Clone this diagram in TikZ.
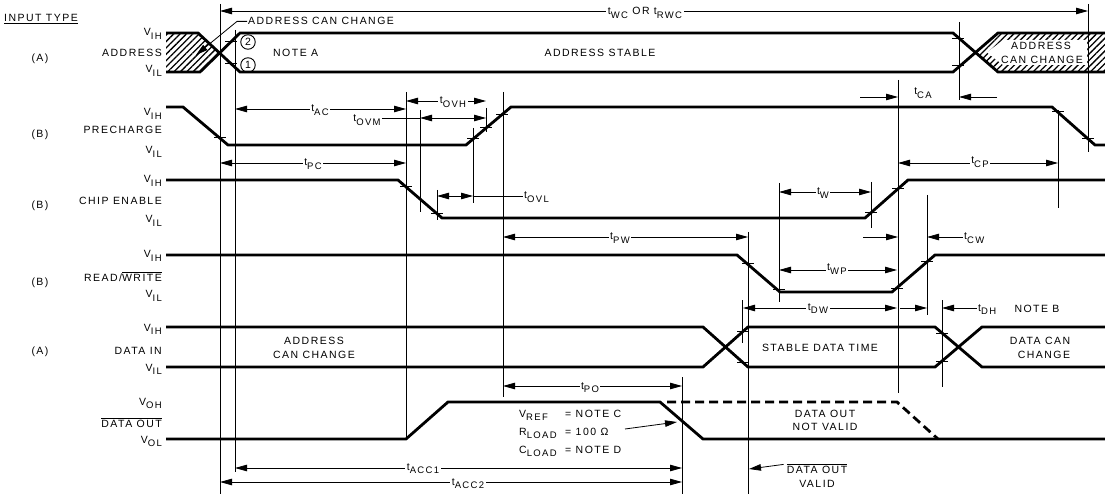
\documentclass[tikz,border=0pt]{standalone}
\usepackage{fontspec}
\setmainfont{Liberation Sans}[LetterSpace=14]
\usetikzlibrary{arrows.meta,patterns.meta}
\newcommand{\sbb}[1]{\raisebox{-3.2pt}{\fontsize{9.5}{10}\selectfont #1}}
\newcommand{\ovl}[1]{$\overline{\mbox{#1}}$}
\begin{document}
\begin{tikzpicture}[x=1pt,y=-1pt,
  sig/.style={line width=2.8pt, line join=miter},
  vline/.style={line width=0.9pt},
  dim/.style={line width=0.8pt,{Triangle[length=12pt,width=6.5pt]}-{Triangle[length=12pt,width=6.5pt]}},
  arr/.style={line width=0.8pt,-{Triangle[length=12pt,width=6.5pt]}},
  txt/.style={font=\fontsize{10.5}{12}\selectfont, inner sep=1pt},
  lab/.style={txt, fill=white, inner sep=1.5pt},
  hatch/.style={pattern={Lines[angle=45,distance=4.5pt,line width=1.3pt]}},
  tk/.pic={\draw[line width=1pt] (-6,0)--(6,0);}
]
\useasboundingbox (0,0) rectangle (1105,494);

% ---------- hatched regions ----------
\fill[hatch] (166,33) -- (198,33) -- (220,53) -- (200,72) -- (166,72) -- cycle;
\fill[hatch] (975.5,52.5) -- (998,33) -- (1105,33) -- (1105,72) -- (998,72) -- cycle;
\fill[white] (987,52.5) -- (1003,40) -- (1087,40) -- (1087,65) -- (1003,65) -- cycle;

% ---------- vertical reference lines ----------
\draw[vline] (220,4) -- (220,494);
\draw[vline] (235,30) -- (235,472);
\draw[vline] (406,92) -- (406,439);
\draw[vline] (420,110) -- (420,212);
\draw[vline] (473,128) -- (473,203);
\draw[vline] (486,108) -- (486,132);
\draw[vline] (503,92) -- (503,397);
\draw[vline] (437,190) -- (437,220);
\draw[vline] (748,232) -- (748,494);
\draw[vline] (779,183) -- (779,302);
\draw[vline] (898,80) -- (898,393);
\draw[vline] (927,195) -- (927,315);
\draw[vline] (942,300) -- (942,387);
\draw[vline] (682,377) -- (682,494);
\draw[vline] (959,22) -- (959,100);
\draw[vline] (1058,110) -- (1058,208);
\draw[vline] (1088,4) -- (1088,152);
\draw[vline] (871,182) -- (871,228);
\draw[vline] (742,300) -- (742,343);

% ---------- signals ----------
% ADDRESS
\draw[sig] (166,33) -- (198,33) -- (240,72) -- (953,72) -- (998,33) -- (1105,33);
\draw[sig] (166,72) -- (200,72) -- (240,33) -- (953,33) -- (998,72) -- (1105,72);
% PRECHARGE
\draw[sig] (166,107) -- (183,107) -- (228,145) -- (466,145) -- (511,107) -- (1052,107) -- (1095,145) -- (1105,145);
% CHIP ENABLE
\draw[sig] (166,180) -- (398,180) -- (442,218) -- (865,218) -- (908,180) -- (1105,180);
% READ/WRITE
\draw[sig] (166,255) -- (737,255) -- (780,292) -- (892,292) -- (935,255) -- (1105,255);
% DATA IN
\draw[sig] (166,327) -- (703,327) -- (748,367) -- (935,367) -- (982,327) -- (1105,327);
\draw[sig] (166,367) -- (703,367) -- (748,327) -- (935,327) -- (982,367) -- (1105,367);
% DATA OUT
\draw[sig] (166,439) -- (406,439) -- (448,402) -- (660,402) -- (703,439) -- (1105,439);
\draw[sig,dash pattern=on 9pt off 5pt] (667,402) -- (897,402) -- (938,439);

% ---------- ticks ----------
\pic at (231,42) {tk};
\pic at (231,64) {tk};
\pic at (958,39) {tk};
\pic at (958,66) {tk};
\pic at (220,138) {tk};
\pic at (473,139) {tk};
\pic at (486,128) {tk};
\pic at (502,115) {tk};
\pic at (1058,112) {tk};
\pic at (1088,139) {tk};
\pic at (406,187) {tk};
\pic at (437,214) {tk};
\pic at (871,213) {tk};
\pic at (898,189) {tk};
\pic at (748,264) {tk};
\pic at (779,289) {tk};
\pic at (897,288) {tk};
\pic at (927,262) {tk};
\pic at (743,331) {tk};
\pic at (743,362) {tk};
\pic at (942,333) {tk};
\pic at (942,361) {tk};

% ---------- left labels ----------
\node[txt,anchor=base west] (inputtype) at (3,22) {\underline{INPUT TYPE}};
\node[txt,anchor=base] (tyA1) at (40,62) {(A)};
\node[txt,anchor=base east] (naddr) at (163,57) {ADDRESS};
\node[txt,anchor=base east] (aih) at (163,36) {V\sbb{IH}};
\node[txt,anchor=base east] (ail) at (163,73) {V\sbb{IL}};

\node[txt,anchor=base] (tyB1) at (40,138) {(B)};
\node[txt,anchor=base east] (npre) at (163,134) {PRECHARGE};
\node[txt,anchor=base east] (pih) at (163,116) {V\sbb{IH}};
\node[txt,anchor=base east] (pil) at (163,154) {V\sbb{IL}};

\node[txt,anchor=base] (tyB2) at (40,209) {(B)};
\node[txt,anchor=base east] (nce) at (163,205) {CHIP ENABLE};
\node[txt,anchor=base east] (cih) at (163,183) {V\sbb{IH}};
\node[txt,anchor=base east] (cil) at (163,223) {V\sbb{IL}};

\node[txt,anchor=base] (tyB3) at (40,285) {(B)};
\node[txt,anchor=base east] (nrw) at (163,281) {READ/\ovl{WRITE}};
\node[txt,anchor=base east] (rih) at (163,258) {V\sbb{IH}};
\node[txt,anchor=base east] (ril) at (163,298) {V\sbb{IL}};

\node[txt,anchor=base] (tyA2) at (40,354) {(A)};
\node[txt,anchor=base east] (ndi) at (163,354) {DATA IN};
\node[txt,anchor=base east] (dih) at (163,331) {V\sbb{IH}};
\node[txt,anchor=base east] (dil) at (163,371) {V\sbb{IL}};

\node[txt,anchor=base east] (ndo) at (163,427) {\ovl{DATA OUT}};
\node[txt,anchor=base east] (doh) at (163,405) {V\sbb{OH}};
\node[txt,anchor=base east] (dol) at (163,443) {V\sbb{OL}};

% ---------- in-diagram texts ----------
\node[txt,anchor=base west] (acctop) at (247,25) {ADDRESS CAN CHANGE};
\draw[arr] (acctop.west) -- ++(-10,0) -- (196,55);
\node[txt,circle,draw,line width=0.9pt,minimum size=14.5pt,inner sep=0pt] (c2) at (248,42) {2};
\node[txt,circle,draw,line width=0.9pt,minimum size=14.5pt,inner sep=0pt] (c1) at (248,65) {1};
\node[txt,anchor=base west] (notea) at (272,57) {NOTE A};
\node[txt,anchor=base] (astable) at (600,57) {ADDRESS STABLE};
\node[txt,anchor=base] (accr1) at (1041,50) {ADDRESS};
\node[txt,anchor=base] (accr2) at (1042,64) {CAN CHANGE};

\node[txt,anchor=base] (dacc1) at (314,344) {ADDRESS};
\node[txt,anchor=base] (dacc2) at (314,358) {CAN CHANGE};
\node[txt,anchor=base] (sdt) at (820,351) {STABLE DATA TIME};
\node[txt,anchor=base] (dcc1) at (1040,344) {DATA CAN};
\node[txt,anchor=base] (dcc2) at (1044,358) {CHANGE};

\node[txt,anchor=base west] (vref) at (518,417) {\makebox[46pt][l]{V\sbb{REF}}= NOTE C};
\node[txt,anchor=base west] (rload) at (518,435) {\makebox[46pt][l]{R\sbb{LOAD}}= 100 Ω};
\node[txt,anchor=base west] (cload) at (518,453) {\makebox[46pt][l]{C\sbb{LOAD}}= NOTE D};
\draw[arr] (625,429) -- (677,422);

\node[txt,anchor=base] (dnv1) at (825,417) {DATA OUT};
\node[txt,anchor=base] (dnv2) at (825,430) {NOT VALID};
\node[txt,anchor=base] (dv1) at (817,473) {\ovl{DATA OUT}};
\node[txt,anchor=base] (dv2) at (817,487) {VALID};
\draw[arr] (dv1.west) ++(-2,-4) -- (749,469);

% ---------- timing dimensions ----------
\draw[dim] (220,11) -- (1088,11);
\node[lab,anchor=base] (twc) at (645,15) {t\sbb{WC} OR t\sbb{RWC}};

\draw[dim] (235,109) -- (406,109);
\node[lab,anchor=base] (tac) at (320,112) {t\sbb{AC}};

\draw[dim] (406,101) -- (486,101);
\node[lab,anchor=base] (tovh) at (453,104) {t\sbb{OVH}};

\node[txt,anchor=base] (tovm) at (367,122) {t\sbb{OVM}};
\draw[line width=0.8pt] (tovm.east |- 0,118) -- (420,118);
\draw[dim] (420,118) -- (486,118);

\draw[dim] (220,163) -- (406,163);
\node[lab,anchor=base] (tpc) at (313,166) {t\sbb{PC}};

\draw[dim] (437,196) -- (473,196);
\node[txt,anchor=base west] (tovl) at (523,199) {t\sbb{OVL}};
\draw[line width=0.8pt] (473,196) -- (tovl.west |- 0,196);

\draw[arr] (860,97) -- (898,97);
\draw[arr] (997,97) -- (959,97);
\node[txt,anchor=base] (tca) at (923,95) {t\sbb{CA}};

\draw[dim] (779,192) -- (871,192);
\node[lab,anchor=base] (tw) at (823,195) {t\sbb{W}};

\draw[dim] (898,163) -- (1058,163);
\node[lab,anchor=base] (tcp) at (980,164) {t\sbb{CP}};

\draw[arr] (863,237) -- (898,237);
\node[txt,anchor=base west] (tcw) at (963,240) {t\sbb{CW}};
\draw[arr] (tcw.west |- 0,237) -- (927,237);

\draw[dim] (503,237) -- (748,237);
\node[lab,anchor=base] (tpw) at (620,240) {t\sbb{PW}};

\draw[dim] (779,270) -- (897,270);
\node[lab,anchor=base] (twp) at (837,271) {t\sbb{WP}};

\draw[dim] (743,308) -- (897,308);
\node[lab,anchor=base] (tdw) at (818,310) {t\sbb{DW}};
\draw[arr] (900,308) -- (927,308);

\node[txt,anchor=base west] (tdh) at (977,311) {t\sbb{DH}};
\draw[arr] (tdh.west |- 0,308) -- (942,308);
\node[txt,anchor=base] (noteb) at (1037,312) {NOTE B};

\draw[dim] (503,386) -- (682,386);
\node[lab,anchor=base] (tpo) at (590,389) {t\sbb{PO}};

\draw[dim] (235,468) -- (682,468);
\node[lab,anchor=base] (tacc1) at (423,470) {t\sbb{ACC1}};

\draw[dim] (220,482) -- (682,482);
\node[lab,anchor=base] (tacc2) at (468,485) {t\sbb{ACC2}};
\end{tikzpicture}
\end{document}
